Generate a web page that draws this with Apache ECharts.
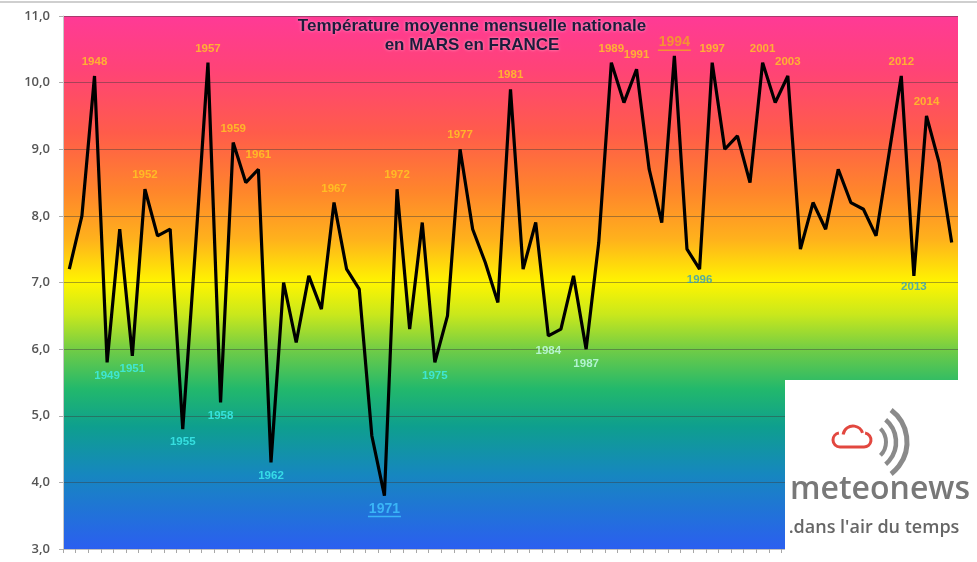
<!DOCTYPE html>
<html><head><meta charset="utf-8">
<script src="https://cdn.jsdelivr.net/npm/echarts@6/dist/echarts.min.js"></script>
<style>html,body{margin:0;padding:0;background:#fff}#c{width:977px;height:562px}</style>
</head><body><div id="c"></div>
<script>
// ---- data ----
const years = ['1946','1947','1948','1949','1950','1951','1952','1953','1954','1955',
  '1956','1957','1958','1959','1960','1961','1962','1963','1964','1965',
  '1966','1967','1968','1969','1970','1971','1972','1973','1974','1975',
  '1976','1977','1978','1979','1980','1981','1982','1983','1984','1985',
  '1986','1987','1988','1989','1990','1991','1992','1993','1994','1995',
  '1996','1997','1998','1999','2000','2001','2002','2003','2004','2005',
  '2006','2007','2008','2009','2010','2011','2012','2013','2014','2015','2016'];
const temps = [7.2,8.0,10.1,5.8,7.8,5.9,8.4,7.7,7.8,4.8,
  7.5,10.3,5.2,9.1,8.5,8.7,4.3,7.0,6.1,7.1,
  6.6,8.2,7.2,6.9,4.7,3.8,8.4,6.3,7.9,5.8,
  6.5,9.0,7.8,7.3,6.7,9.9,7.2,7.9,6.2,6.3,
  7.1,6.0,7.6,10.3,9.7,10.2,8.7,7.9,10.4,7.5,
  7.2,10.3,9.0,9.2,8.5,10.3,9.7,10.1,7.5,8.2,
  7.8,8.7,8.2,8.1,7.7,8.9,10.1,7.1,9.5,8.8,7.6];
const warmYears = ['1948','1952','1957','1959','1961','1967','1972','1977','1981','1989','1991','1997','2001','2003','2012','2014'];
const coldYears = ['1949','1951','1955','1958','1962','1975'];
const paleColdYears = ['1984','1987'];
const darkColdYears = ['1996','2013'];
const recordWarm = ['1994'];
const recordCold = ['1971'];
const yTickValues = [3,4,5,6,7,8,9,10,11];
const yTickLabels = ['3,0','4,0','5,0','6,0','7,0','8,0','9,0','10,0','11,0'];
const titleLines = ['Température moyenne mensuelle nationale', 'en MARS en FRANCE'];

// ---- build ----
const yearOf = p => p.value[0];
const baseLbl = {show:true, fontWeight:'bold', fontSize:11.5, fontFamily:'Liberation Sans', formatter:yearOf};
function item(y, lbl){ const i = years.indexOf(y); return {value:[y, temps[i]], label:Object.assign({}, baseLbl, lbl)}; }
const labelData = [];
warmYears.forEach(y => labelData.push(item(y, {position:'top', distance:7, color:'#ffcc22'})));
coldYears.forEach(y => labelData.push(item(y, {position:'bottom', distance:6, color:'#3ff0f0'})));
paleColdYears.forEach(y => labelData.push(item(y, {position:'bottom', distance:8, color:'#c8fff0'})));
darkColdYears.forEach(y => labelData.push(item(y, {position:'bottom', distance:4, color:'#2f9cc0'})));
recordWarm.forEach(y => labelData.push(item(y, {position:'top', distance:4,
  formatter:p => '{a|' + p.value[0] + '}\n{u|}',
  rich:{a:{fontSize:14, fontWeight:'bold', color:'#f2a81e', fontFamily:'Liberation Sans', align:'center'},
        u:{width:33, height:1.5, backgroundColor:'#f2a81e', align:'center'}}})));
recordCold.forEach(y => labelData.push(item(y, {position:'bottom', distance:5,
  formatter:p => '{a|' + p.value[0] + '}\n{u|}',
  rich:{a:{fontSize:14, fontWeight:'bold', color:'#41c6ff', fontFamily:'Liberation Sans', align:'center'},
        u:{width:33, height:1.5, backgroundColor:'#41c6ff', align:'center'}}})));

const grey = '#8a8a8a', red = '#e2473f';
const chart = echarts.init(document.getElementById('c'));
chart.setOption({
  animation:false,
  backgroundColor:'#ffffff',
  grid:{left:63, right:19, top:16, bottom:13, containLabel:false,
    show:true, borderWidth:0,
    backgroundColor:{type:'linear', x:0, y:0, x2:0, y2:1, colorStops:[
      {offset:0.00, color:'#ff3a96'},
      {offset:0.10, color:'#ff4377'},
      {offset:0.22, color:'#ff5c4a'},
      {offset:0.33, color:'#ff862b'},
      {offset:0.42, color:'#ffb21c'},
      {offset:0.50, color:'#fff500'},
      {offset:0.56, color:'#c9e81c'},
      {offset:0.63, color:'#6ccb48'},
      {offset:0.70, color:'#22b86c'},
      {offset:0.77, color:'#0e9f8e'},
      {offset:0.86, color:'#1687bf'},
      {offset:1.00, color:'#2b5ff0'}]}
  },
  xAxis:{type:'category', data:years, boundaryGap:true,
    axisLabel:{show:false},
    axisTick:{show:true, interval:0, length:4, lineStyle:{color:'#a8a8a8'}},
    axisLine:{show:true, lineStyle:{color:'#c0c0c0'}},
    splitLine:{show:false}},
  yAxis:{type:'value', min:3, max:11, interval:1,
    axisLabel:{color:'#555555', fontSize:13, fontWeight:600, fontFamily:'Open Sans', margin:13,
      formatter:v => yTickLabels[yTickValues.indexOf(v)]},
    axisTick:{show:true, length:4, lineStyle:{color:'#b0b0b0'}},
    axisLine:{show:true, lineStyle:{color:'#c8c8c8'}},
    splitLine:{show:true, lineStyle:{color:'rgba(60,60,60,0.45)', width:1}}},
  series:[
    {type:'line', data:temps, symbol:'none', lineStyle:{color:'#000', width:3.2}, z:2},
    {type:'scatter', data:labelData, symbolSize:2, itemStyle:{color:'rgba(0,0,0,0)'}, z:3, silent:true}
  ],
  graphic:[
    {type:'line', shape:{x1:0, y1:2, x2:977, y2:2}, style:{stroke:'#cfcfcf', lineWidth:2}, z:50},
    {type:'text', x:472, y:17, z:60, style:{text:titleLines.join('\n'), textAlign:'center',
      font:'bold 17px "Liberation Sans"', lineHeight:19, fill:'#1c1c3c',
      textShadowColor:'rgba(255,255,255,0.5)', textShadowBlur:3}},
    {type:'rect', shape:{x:785, y:380, width:192, height:182}, style:{fill:'#ffffff'}, z:100},
    {type:'arc', z:101, shape:{cx:840, cy:440, r:7, startAngle:Math.PI/2, endAngle:Math.PI*1.45}, style:{fill:'none', stroke:red, lineWidth:3}},
    {type:'arc', z:101, shape:{cx:853, cy:436, r:10, startAngle:Math.PI*1.05, endAngle:Math.PI*1.9}, style:{fill:'none', stroke:red, lineWidth:3}},
    {type:'arc', z:101, shape:{cx:864, cy:440, r:7, startAngle:Math.PI*1.55, endAngle:Math.PI*2.5}, style:{fill:'none', stroke:red, lineWidth:3}},
    {type:'line', z:101, shape:{x1:840, y1:447, x2:864, y2:447}, style:{stroke:red, lineWidth:3}},
    {type:'arc', z:101, shape:{cx:867, cy:442, r:19, startAngle:-Math.PI/4, endAngle:Math.PI/4}, style:{fill:'none', stroke:grey, lineWidth:4}},
    {type:'arc', z:101, shape:{cx:867, cy:442, r:29, startAngle:-Math.PI/3.6, endAngle:Math.PI/3.6}, style:{fill:'none', stroke:grey, lineWidth:4.5}},
    {type:'arc', z:101, shape:{cx:867, cy:442, r:40, startAngle:-Math.PI/3.4, endAngle:Math.PI/3.4}, style:{fill:'none', stroke:grey, lineWidth:5}},
    {type:'text', z:101, x:880, y:490, style:{text:'meteonews', textAlign:'center', textVerticalAlign:'middle',
      font:'600 32px "Open Sans"', fill:'#787878'}},
    {type:'text', z:101, x:874, y:528, style:{text:".dans l'air du temps", textAlign:'center', textVerticalAlign:'middle',
      font:'600 18px "Open Sans"', fill:'#666666'}}
  ]
});
</script></body></html>
